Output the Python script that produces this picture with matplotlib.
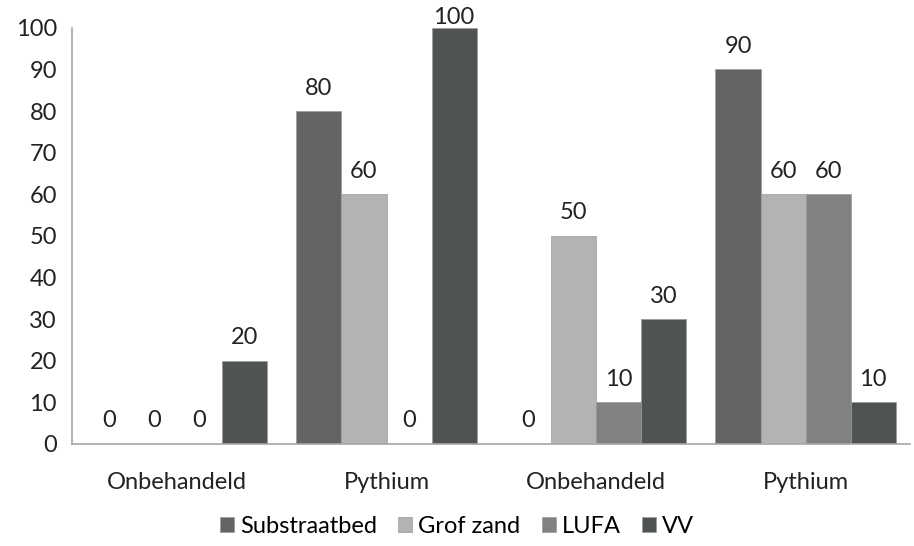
import matplotlib
matplotlib.use('Agg')

import numpy as np
import matplotlib.pyplot as plt

plt.rcParams['font.family'] = ['Lato', 'DejaVu Sans']

# Data
categories = ["Onbehandeld", "Pythium", "Onbehandeld", "Pythium"]
series_names = ["Substraatbed", "Grof zand", "LUFA", "VV"]
substraatbed = [0, 80, 0, 90]
grof_zand = [0, 60, 50, 60]
lufa = [0, 0, 10, 60]
vv = [20, 100, 30, 10]
colors = ["#636466", "#b2b3b3", "#808183", "#505353"]

values = [substraatbed, grof_zand, lufa, vv]
fs = 17

fig = plt.figure(figsize=(9.14, 5.46), dpi=100)
ax = fig.add_axes([0.079, 0.187, 0.917, 0.762])

x = np.arange(len(categories))
width = 0.215
for i, (name, vals, col) in enumerate(zip(series_names, values, colors)):
    pos = x + (i - 1.5) * width
    bars = ax.bar(pos, vals, width, color=col, label=name,
                  edgecolor="#9a9a9a", linewidth=0.5)
    for b, v in zip(bars, vals):
        # top label is pulled down so it stays inside the figure
        off = 9 if v < 100 else 0
        ax.annotate(str(v), (b.get_x() + b.get_width() / 2, v),
                    xytext=(0, off), textcoords="offset points",
                    ha="center", va="bottom", fontsize=fs, color="#222222",
                    annotation_clip=False)

ax.set_xlim(-0.5, len(categories) - 0.5)
ax.set_ylim(0, 100)
ax.set_yticks(range(0, 101, 10))
ax.set_xticks(x)
ax.set_xticklabels(categories)
ax.tick_params(axis="both", length=0, labelsize=fs, colors="#222222")
ax.tick_params(axis="x", pad=20)
ax.tick_params(axis="y", pad=11)

for s in ["top", "right"]:
    ax.spines[s].set_visible(False)
for s in ["left", "bottom"]:
    ax.spines[s].set_color("#a6a6a6")
    ax.spines[s].set_linewidth(1.2)

fig.legend(loc="lower center", ncol=4, bbox_to_anchor=(0.5, -0.022),
           frameon=False, fontsize=fs, handlelength=0.6, handleheight=0.6,
           handletextpad=0.25, columnspacing=0.9)

plt.savefig("out.png", dpi=100)
